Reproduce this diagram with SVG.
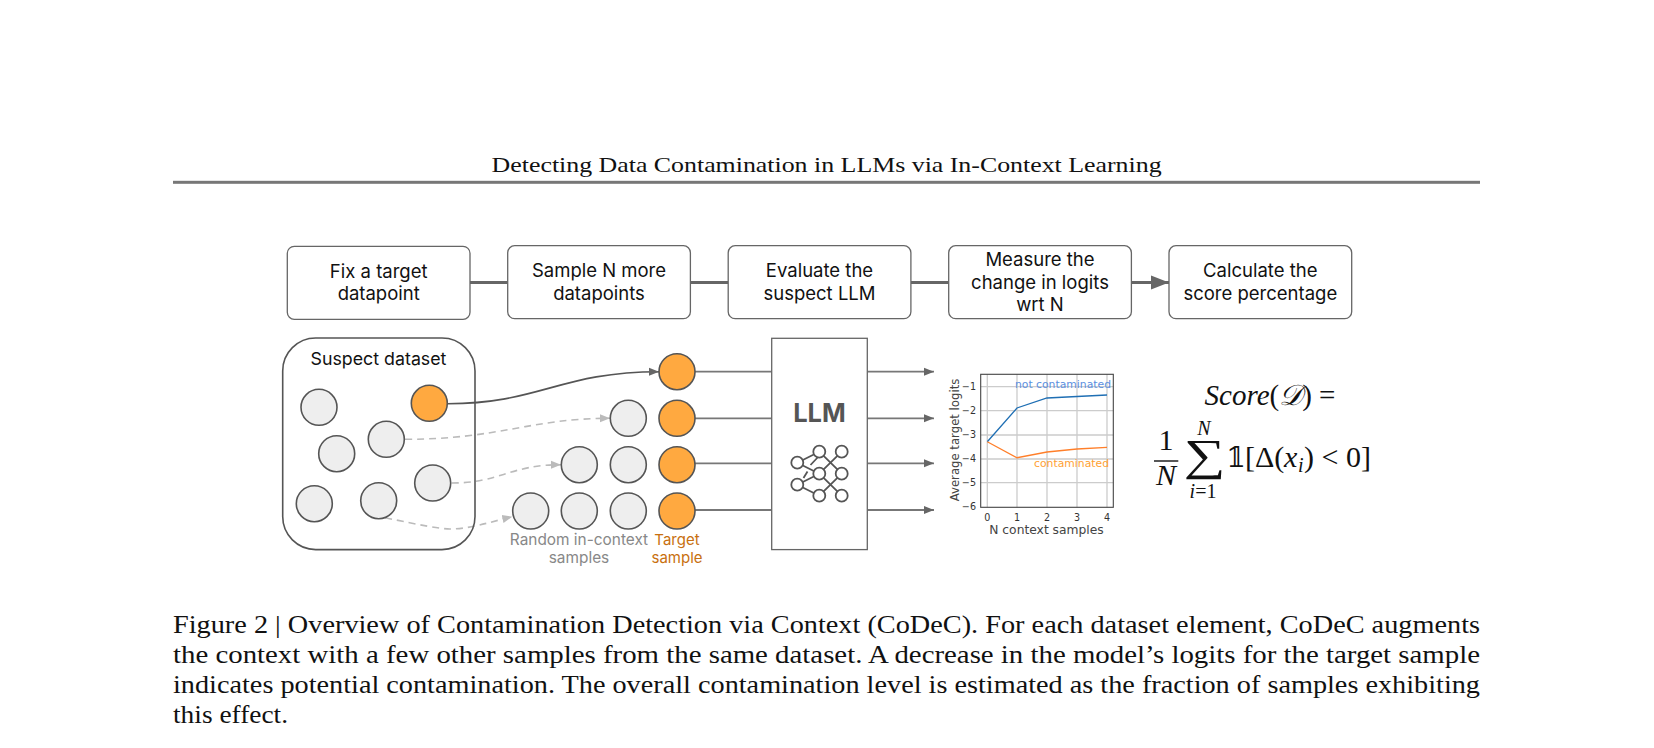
<svg xmlns="http://www.w3.org/2000/svg" width="1654" height="748" viewBox="0 0 1654 748">
<style>
.serif{font-family:"Liberation Serif","DejaVu Serif",serif;fill:#111}
.cap{font-size:25px}
.sans{font-family:Inter,"Noto Sans",sans-serif}
.bt{font-size:18.5px;fill:#111;text-anchor:middle}
.box{fill:#fff;stroke:#666;stroke-width:1.3}
.g{fill:#eee;stroke:#555;stroke-width:1.6}
.o{fill:#ffa940;stroke:#555;stroke-width:1.6}
.flow{stroke:#666;stroke-width:3;fill:none}
.wire{stroke:#777;stroke-width:1.8;fill:none}
.dash{stroke:#bbb;stroke-width:1.6;fill:none;stroke-dasharray:7 5}
.curve{stroke:#555;stroke-width:1.6;fill:none}
.ico{stroke:#555;stroke-width:1.8;fill:#fff}
.grid{stroke:#ccc;stroke-width:1.3}
.tick{font-family:"DejaVu Sans",sans-serif;font-size:9.6px;fill:#333}
.axl{font-family:"DejaVu Sans",sans-serif;font-size:12.3px;fill:#444;text-anchor:middle}
.m{font-family:"Liberation Serif","DejaVu Serif",serif;fill:#111;text-anchor:middle}
.s{font-family:"Liberation Serif","DejaVu Serif",serif;fill:#111}
</style>
<defs>
<marker id="big" markerUnits="userSpaceOnUse" markerWidth="20" markerHeight="16" refX="18" refY="8" orient="auto"><path d="M0 1L18 8L0 15Z" fill="#666"/></marker>
<marker id="mid" markerUnits="userSpaceOnUse" markerWidth="12" markerHeight="10" refX="10" refY="5" orient="auto"><path d="M0 1L10 5L0 9Z" fill="#666"/></marker>
<marker id="lite" markerUnits="userSpaceOnUse" markerWidth="12" markerHeight="10" refX="10" refY="5" orient="auto"><path d="M0 1L10 5L0 9Z" fill="#bbb"/></marker>
</defs>
<text class="serif" x="491.6" y="172" font-size="21.5" textLength="670" lengthAdjust="spacingAndGlyphs">Detecting Data Contamination in LLMs via In-Context Learning</text>
<rect x="173" y="180.8" width="1307" height="3" fill="#777"/>
<g id="connectors">
<path class="flow" d="M470 282.5H507.7"/>
<path class="flow" d="M690.3 282.5H728.2"/>
<path class="flow" d="M911 282.5H948.7"/>
<path class="flow" d="M1131.5 282.5H1169" marker-end="url(#big)"/>
<path class="curve" d="M447.7 403.7C540 403.7 560 371.7 659 371.7" marker-end="url(#mid)"/>
<path class="dash" d="M405 439.3C500 439.3 530 418.3 610 418.3" marker-end="url(#lite)"/>
<path class="dash" d="M451.7 483C500 483 510 464.7 561 464.7" marker-end="url(#lite)"/>
<path class="dash" d="M385 517.7C420 525 440 529 450 529C470 529 490 522 512.3 516.7" marker-end="url(#lite)"/>
<path class="wire" d="M695 371.7H771.7M695 418.3H771.7M695 463.3H771.7M695 510H771.7"/>
<path class="wire" d="M867.3 371.7H934" marker-end="url(#mid)"/>
<path class="wire" d="M867.3 418.3H934" marker-end="url(#mid)"/>
<path class="wire" d="M867.3 463.3H934" marker-end="url(#mid)"/>
<path class="wire" d="M867.3 510H934" marker-end="url(#mid)"/>
</g>
<g id="step1"><rect class="box" x="287.3" y="246.3" width="182.7" height="73" rx="7"/><text class="sans bt" x="378.7" y="278">Fix a target</text><text class="sans bt" x="378.7" y="300">datapoint</text></g>
<g id="step2"><rect class="box" x="507.7" y="245.7" width="182.7" height="73" rx="7"/><text class="sans bt" x="599" y="277">Sample N more</text><text class="sans bt" x="599" y="300">datapoints</text></g>
<g id="step3"><rect class="box" x="728.2" y="245.7" width="182.7" height="73" rx="7"/><text class="sans bt" x="819.5" y="277">Evaluate the</text><text class="sans bt" x="819.5" y="300">suspect LLM</text></g>
<g id="step4"><rect class="box" x="948.7" y="245.7" width="182.7" height="73" rx="7"/><text class="sans bt" x="1040" y="266">Measure the</text><text class="sans bt" x="1040" y="289">change in logits</text><text class="sans bt" x="1040" y="311">wrt N</text></g>
<g id="step5"><rect class="box" x="1169" y="245.7" width="182.7" height="73" rx="7"/><text class="sans bt" x="1260.3" y="277">Calculate the</text><text class="sans bt" x="1260.3" y="300">score percentage</text></g>
<g id="dataset">
<rect x="282.7" y="338" width="192.3" height="211.6" rx="33" fill="none" stroke="#555" stroke-width="1.6"/>
<text class="sans" x="378.5" y="365" font-size="17.8" fill="#111" text-anchor="middle">Suspect dataset</text>
<circle class="g" cx="319" cy="407.3" r="18"/><circle class="o" cx="429.3" cy="403.3" r="18"/><circle class="g" cx="336.7" cy="453.7" r="18"/><circle class="g" cx="386.3" cy="439.3" r="18"/><circle class="g" cx="314.3" cy="503.7" r="18"/><circle class="g" cx="378.7" cy="500.7" r="18"/><circle class="g" cx="432.7" cy="483" r="18"/>
</g>
<g id="samples">
<circle class="o" cx="677" cy="371.7" r="18"/>
<circle class="g" cx="628.3" cy="418.3" r="18"/><circle class="o" cx="677" cy="418.3" r="18"/>
<circle class="g" cx="579.3" cy="464.7" r="18"/><circle class="g" cx="628.3" cy="464.7" r="18"/><circle class="o" cx="677" cy="464.7" r="18"/>
<circle class="g" cx="530.7" cy="511" r="18"/><circle class="g" cx="579.3" cy="511" r="18"/><circle class="g" cx="628.3" cy="511" r="18"/><circle class="o" cx="677" cy="511" r="18"/>
<text class="sans" x="579" y="545" font-size="15.4" fill="#888" text-anchor="middle">Random in-context</text>
<text class="sans" x="579" y="563" font-size="15.4" fill="#888" text-anchor="middle">samples</text>
<text class="sans" x="677" y="545" font-size="15" fill="#c8700f" text-anchor="middle">Target</text>
<text class="sans" x="677" y="563" font-size="15" fill="#c8700f" text-anchor="middle">sample</text>
</g>
<g id="llm">
<rect x="771.7" y="338.3" width="95.6" height="211.3" fill="#fff" stroke="#666" stroke-width="1.3"/>
<text class="sans" x="819.5" y="421.7" font-size="25.5" font-weight="700" fill="#555" text-anchor="middle">LLM</text>
<path class="ico" d="M797.3 462.7L819.3 451.7M797.3 462.7L819.3 473.7M797.3 484.7L819.3 473.7M797.3 484.7L819.3 495.7M819.3 451.7L841.7 473.7M841.7 451.7L819.3 473.7M819.3 473.7L841.7 495.7M819.3 495.7L841.7 473.7M810.5 465L819 456M803.5 478L807.5 471.5" fill="none"/>
<circle class="ico" cx="797.3" cy="462.7" r="6"/><circle class="ico" cx="797.3" cy="484.7" r="6"/><circle class="ico" cx="819.3" cy="451.7" r="6"/><circle class="ico" cx="819.3" cy="473.7" r="6"/><circle class="ico" cx="819.3" cy="495.7" r="6"/><circle class="ico" cx="841.7" cy="451.7" r="6"/><circle class="ico" cx="841.7" cy="473.7" r="6"/><circle class="ico" cx="841.7" cy="495.7" r="6"/>
</g>
<g id="chart">
<path class="grid" d="M987.3 374.3V507.3M1017 374.3V507.3M1047 374.3V507.3M1077 374.3V507.3M1107 374.3V507.3M980.7 386.7H1113.3M980.7 410.7H1113.3M980.7 435H1113.3M980.7 459H1113.3M980.7 482.7H1113.3"/>
<rect x="980.7" y="374.3" width="132.6" height="133" fill="none" stroke="#444" stroke-width="1.1"/>
<path d="M987.3 441.7L1017 408L1047 398L1077 396.5L1107 395" fill="none" stroke="#1f6fb4" stroke-width="1.3"/>
<path d="M987.3 441.7L1017 457.7L1047 452L1077 449L1107 447.3" fill="none" stroke="#ff7f2a" stroke-width="1.3"/>
<text x="1015" y="388" font-family="DejaVu Sans,sans-serif" font-size="10.8" fill="#5b8fe0" textLength="96">not contaminated</text>
<text x="1034" y="467" font-family="DejaVu Sans,sans-serif" font-size="10.8" fill="#ff9f33" textLength="75">contaminated</text>
<g class="tick" text-anchor="end"><text x="976" y="390">−1</text><text x="976" y="414">−2</text><text x="976" y="438.3">−3</text><text x="976" y="462.3">−4</text><text x="976" y="486">−5</text><text x="976" y="510.3">−6</text></g>
<g class="tick" text-anchor="middle"><text x="987.3" y="520.5">0</text><text x="1017" y="520.5">1</text><text x="1047" y="520.5">2</text><text x="1077" y="520.5">3</text><text x="1107" y="520.5">4</text></g>
<text class="axl" style="font-size:11.7px" transform="translate(958.5 440) rotate(-90)">Average target logits</text>
<text class="axl" x="1046.5" y="534">N context samples</text>
</g>
<g id="score">
<text class="m" x="1270" y="405" font-size="29"><tspan font-style="italic">Score</tspan>(<tspan font-style="italic">𝒟</tspan>) =</text>
<text class="m" x="1166" y="450" font-size="30">1</text>
<rect x="1154" y="460.3" width="24.3" height="1.4" fill="#111"/>
<text class="m" x="1166" y="485" font-size="30" font-style="italic">N</text>
<text class="m" x="1204" y="435" font-size="20" font-style="italic">N</text>
<text class="m" transform="translate(1204.5 470.3) scale(1.33 1)" font-size="44">∑</text>
<text class="m" x="1203" y="498" font-size="20"><tspan font-style="italic">i</tspan>=1</text>
<text class="m" x="1236" y="466.7" font-size="28" font-family="DejaVu Serif,serif">𝟙</text>
<text class="s" x="1245" y="466.7" font-size="30">[Δ(</text>
<text class="s" x="1284" y="466.7" font-size="30" font-style="italic">x</text>
<text class="s" x="1298" y="472" font-size="20" font-style="italic">i</text>
<text class="s" x="1304" y="466.7" font-size="30">) &lt; 0]</text>
</g>
<g id="caption" class="serif cap">
<text x="173" y="633.3" textLength="1307" lengthAdjust="spacingAndGlyphs">Figure 2 | Overview of Contamination Detection via Context (CoDeC). For each dataset element, CoDeC augments</text>
<text x="173" y="663.3" textLength="1307" lengthAdjust="spacingAndGlyphs">the context with a few other samples from the same dataset. A decrease in the model’s logits for the target sample</text>
<text x="173" y="693.3" textLength="1307" lengthAdjust="spacingAndGlyphs">indicates potential contamination. The overall contamination level is estimated as the fraction of samples exhibiting</text>
<text x="173" y="723.3" textLength="115" lengthAdjust="spacingAndGlyphs">this effect.</text>
</g>
</svg>
